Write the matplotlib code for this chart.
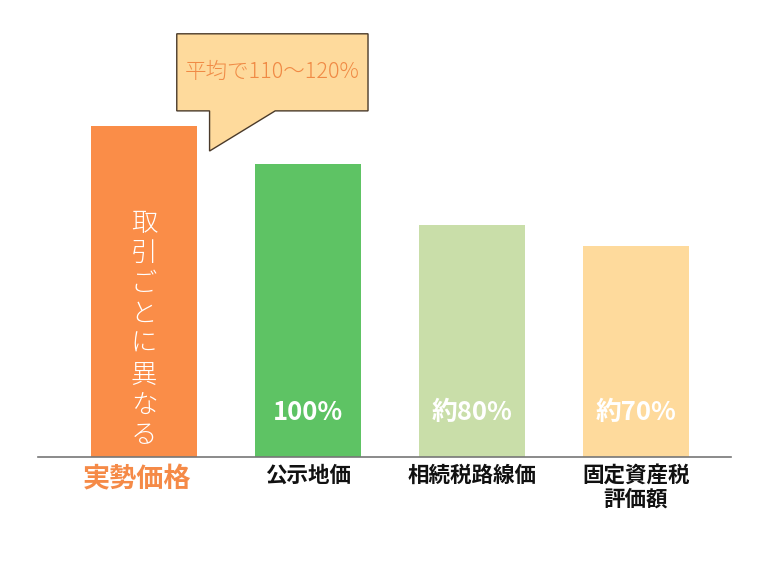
import matplotlib
matplotlib.use("Agg")
import matplotlib.pyplot as plt
from matplotlib.patches import Polygon

plt.rcParams['font.family'] = ['Noto Sans CJK JP', 'DejaVu Sans']

categories = ['実勢価格', '公示地価', '相続税路線価', '固定資産税\n評価額']
values = [113, 100, 79, 72]
bar_texts = ['', '100%', '約80%', '約70%']
colors = ['#FA8D48', '#5EC364', '#C9DEA9', '#FEDA9C']
callout_text = '平均で110〜120%'
vertical_text = '取引ごとに異なる'

fig = plt.figure(figsize=(7.68, 5.76), dpi=100)
ax = fig.add_axes([38 / 768, 119 / 576, 693 / 768, 381 / 576])
x = range(len(categories))
ax.bar(x, values, width=0.646, color=colors)
ax.set_xlim(-0.646, 3.579)
ax.set_ylim(0, 130)

for s in ['top', 'right', 'left']:
    ax.spines[s].set_visible(False)
ax.spines['bottom'].set_color('#777777')
ax.spines['bottom'].set_linewidth(1.2)
ax.set_yticks([])
ax.set_xticks([])

# category labels under the axis
for i, lab in enumerate(categories):
    if i == 0:
        ax.text(i - 0.04, -2.8, lab, ha='center', va='top', fontsize=19.5,
                fontweight='bold', color='#F58A47')
    else:
        ax.text(i, -2.6, lab, ha='center', va='top', fontsize=15.5,
                fontweight='bold', color='#111111', linespacing=1.15)

# percentages inside bars
for i, t in enumerate(bar_texts):
    if t:
        ax.text(i, 15.2, t, ha='center', va='center', fontsize=18.5,
                fontweight='bold', color='white')

# vertical text in first bar
for k, ch in enumerate(vertical_text):
    ax.text(0, 80.0 - k * 10.35, ch, ha='center', va='center', fontsize=19,
            fontweight='light', color='white')

# speech bubble
bubble = Polygon([(0.20, 144.4), (1.366, 144.4), (1.366, 118.1), (0.80, 118.1),
                  (0.40, 104.4), (0.40, 118.1), (0.20, 118.1)],
                 closed=True, facecolor='#FEDA9C', edgecolor='#4a3a2a',
                 linewidth=1.0, clip_on=False, zorder=5)
ax.add_patch(bubble)
ax.text(0.783, 131.3, callout_text, ha='center', va='center', fontsize=15.5,
        fontweight='light', color='#F08A45', zorder=6)

fig.savefig('out.png', dpi=100)
